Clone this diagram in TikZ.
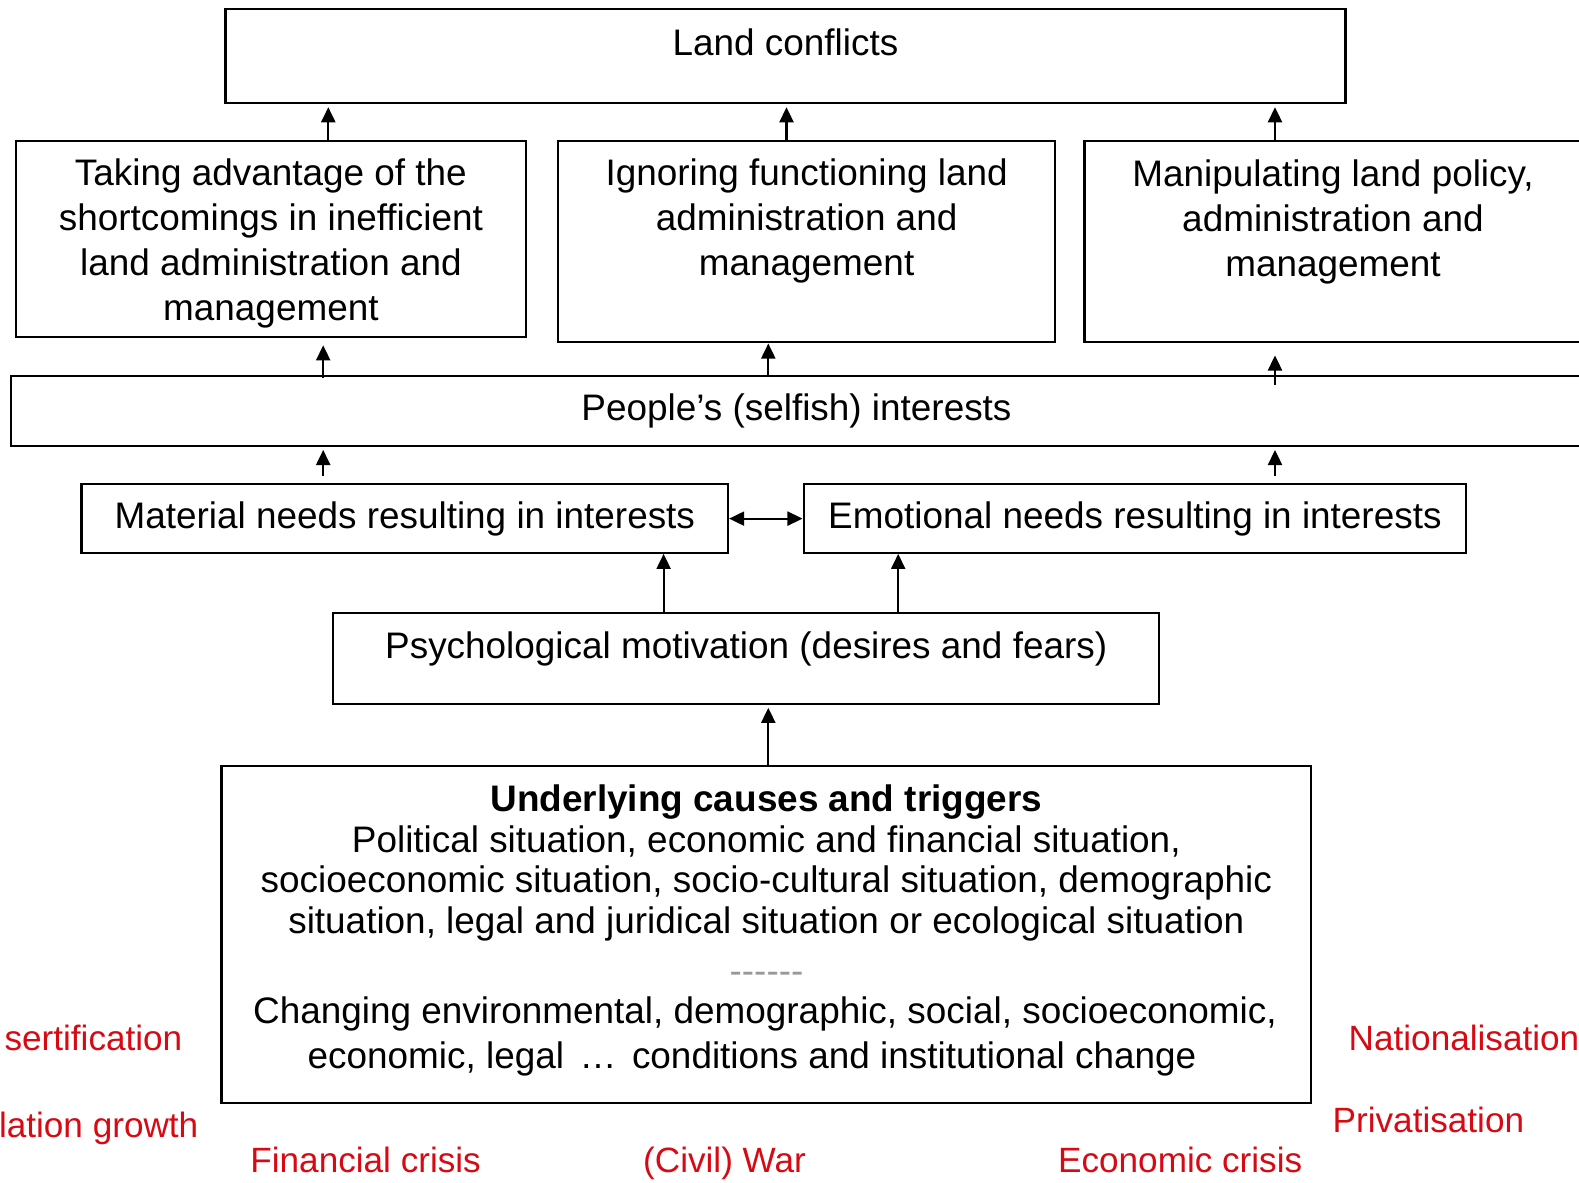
\documentclass[tikz,border=0pt]{standalone}
\usepackage{fontspec}
\setmainfont{Liberation Sans}
\usepackage{xcolor}
\definecolor{trigred}{RGB}{215,10,20}
\usetikzlibrary{arrows.meta}
\usetikzlibrary{positioning}

\begin{document}
\begin{tikzpicture}[
		box/.style={draw, line width=0.6pt, inner sep=0pt, align=center, font=\fontsize{10.5}{12.75}\selectfont},
		txt/.style={inner sep=0pt, align=center, font=\fontsize{10.5}{12.75}\selectfont},
		trig/.style={inner sep=0pt, text=trigred, font=\fontsize{10}{12}\selectfont},
		arr/.style={line width=0.6pt, -{Triangle[length=4.3pt, width=4pt]}}
	]
				\useasboundingbox (0,0) rectangle (15.79,-11.82);
				\clip (0,0) rectangle (15.79,-11.82);

				% top level
				\node[box, minimum width=11.20cm, minimum height=0.94cm] (conflicts) at (7.855,-0.563) {};
				\node[txt, below=0.20cm of conflicts.north] (conflictstxt) {Land conflicts};

				% ways of acting
				\node[box, minimum width=5.10cm, minimum height=1.96cm] (adv) at (2.709,-2.392) {};
				\node[txt, below=0.18cm of adv.north] (advtxt) {Taking advantage of the\\shortcomings in inefficient\\land administration and\\management};
				\node[box, minimum width=4.974cm, minimum height=2.014cm] (ign) at (8.066,-2.417) {};
				\node[txt, below=0.18cm of ign.north] (igntxt) {Ignoring functioning land\\administration and\\management};
				\node[box, minimum width=5.155cm, minimum height=2.014cm] (man) at (13.4225,-2.417) {};
				\node[txt, anchor=north] (mantxt) at (13.33,-1.59) {Manipulating land policy,\\administration and\\management};

				% interests
				\node[box, minimum width=15.889cm, minimum height=0.705cm] (people) at (8.0555,-4.108) {};
				\node[txt] (peopletxt) at (7.965,-4.108) {People’s (selfish) interests};

				\node[box, minimum width=6.465cm, minimum height=0.684cm] (material) at (4.048,-5.186) {Material needs resulting in interests};
				\node[box, minimum width=6.626cm, minimum height=0.684cm] (emotional) at (11.349,-5.186) {Emotional needs resulting in interests};

				\node[box, minimum width=8.258cm, minimum height=0.906cm] (psych) at (7.462,-6.586) {};
				\node[txt, below=0.19cm of psych.north] (psychtxt) {Psychological motivation (desires and fears)};

				% causes
				\node[box, minimum width=10.896cm, minimum height=3.364cm] (under) at (7.663,-9.345) {};
				\node[txt, font=\fontsize{10.5}{11.55}\selectfont, below=0.19cm of under.north] (undertxt) {\textbf{Underlying causes and triggers}\\Political situation, economic and financial situation,\\socioeconomic situation, socio-cultural situation, demographic\\situation, legal and juridical situation or ecological situation};
				\node[txt, text=gray!80] (dashes) at (7.665,-9.78) {-\kern0pt-\kern0pt-\kern0pt-\kern0pt-\kern0pt-};
				\node[txt, font=\fontsize{10.5}{12.9}\selectfont, anchor=north] (changetxt) at (7.65,-9.96) {Changing environmental, demographic, social, socioeconomic,\\economic, legal\hspace{1.5pt} \dots\hspace{1.5pt} conditions and institutional change\hspace*{0.26cm}};

				% arrows
				\draw[arr, shorten >=0.8pt] (adv.north -| 3.283,0) -- (conflicts.south -| 3.283,0);
				\draw[arr, shorten >=0.8pt] (ign.north -| 7.865,0) -- (conflicts.south -| 7.865,0);
				\draw[arr, shorten >=0.8pt] (man.north -| 12.75,0) -- (conflicts.south -| 12.75,0);

				\draw[arr, shorten <=-1pt, shorten >=2pt] (people.north -| 3.232,0) -- (adv.south -| 3.232,0);
				\draw[arr] (people.north -| 7.683,0) -- (ign.south -| 7.683,0);
				\draw[arr, shorten <=-3pt, shorten >=3.4pt] (people.north -| 12.75,0) -- (man.south -| 12.75,0);

				\draw[arr, shorten <=2pt, shorten >=0.8pt] (material.north -| 3.232,0) -- (people.south -| 3.232,0);
				\draw[arr, shorten <=2pt, shorten >=0.8pt] (emotional.north -| 12.75,0) -- (people.south -| 12.75,0);
				\draw[line width=0.6pt, {Triangle[length=4.3pt, width=4pt]}-{Triangle[length=4.3pt, width=4pt]}] (material) -- (emotional);

				\draw[arr] (psych.north -| 6.636,0) -- (material.south -| 6.636,0);
				\draw[arr] (psych.north -| 8.982,0) -- (emotional.south -| 8.982,0);
				\draw[arr, shorten >=0.8pt] (under.north -| 7.683,0) -- (psych.south -| 7.683,0);

				% triggers
				\node[trig, anchor=base east] (desert) at (1.83,-10.50) {sertification};
				\node[trig, anchor=base east] (popgrowth) at (1.99,-11.37) {lation growth};
				\node[trig, anchor=base west] (fincrisis) at (2.497,-11.72) {Financial crisis};
				\node[trig, anchor=base west] (war) at (6.425,-11.72) {(Civil) War};
				\node[trig, anchor=base west] (ecocrisis) at (10.574,-11.72) {Economic crisis};
				\node[trig, anchor=base west] (national) at (13.48,-10.50) {Nationalisation};
				\node[trig, anchor=base west] (privat) at (13.32,-11.32) {Privatisation};
			\end{tikzpicture}
\end{document}
